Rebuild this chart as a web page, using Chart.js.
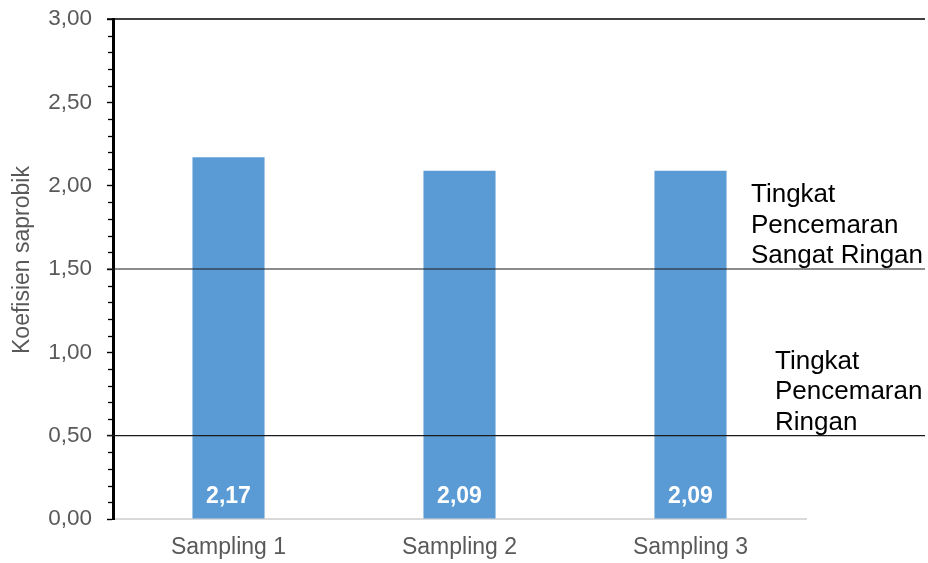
<!DOCTYPE html>
<html>
<head>
<meta charset="utf-8">
<script src="https://cdn.jsdelivr.net/npm/chart.js@4"></script>
<style>
  html, body { margin: 0; padding: 0; background: #ffffff; }
  #wrap { width: 928px; height: 563px; position: relative; }
</style>
</head>
<body>
<div id="wrap"><canvas id="chart"></canvas></div>
<script>
// Data
const categories = ['Sampling 1', 'Sampling 2', 'Sampling 3'];
const saprobicValues = [2.17, 2.09, 2.09];
const yTicks = [0, 0.5, 1, 1.5, 2, 2.5, 3];
const referenceLines = [3.0, 1.5, 0.5];
const zoneLabels = [
  { line: 1.5, text: ['Tingkat', 'Pencemaran', 'Sangat Ringan'] },
  { line: 0.5, text: ['Tingkat', 'Pencemaran', 'Ringan'] }
];
const yTitle = 'Koefisien saprobik';

const FONT = '"Liberation Sans", Arial, Helvetica, sans-serif';
const fmt = v => v.toFixed(2).replace('.', ',');

// Minor ticks, reference lines, zone notes, value labels and axis title
const decorations = {
  id: 'decorations',
  beforeDatasetsDraw(chart) {
    const { ctx, scales: { y } } = chart;
    const xAxis = y.right;
    ctx.save();
    // minor ticks every 0.1
    ctx.strokeStyle = '#000';
    ctx.lineWidth = 1.3;
    for (let i = 0; i <= 30; i++) {
      if (i % 5 === 0) continue;
      const py = Math.round(y.getPixelForValue(i / 10)) + 0.5;
      ctx.beginPath();
      ctx.moveTo(xAxis - 5, py);
      ctx.lineTo(xAxis, py);
      ctx.stroke();
    }
    ctx.restore();
  },
  afterDatasetsDraw(chart) {
    const { ctx, scales: { y } } = chart;
    ctx.save();
    // horizontal reference lines reaching past the plot
    referenceLines.forEach((v, i) => {
      const py = y.getPixelForValue(v);
      ctx.strokeStyle = i === 0 ? '#000' : '#1a1a1a';
      ctx.lineWidth = i === 0 ? 1.6 : 1.1;
      ctx.beginPath();
      ctx.moveTo(y.right - 6, py);
      ctx.lineTo(925, py);
      ctx.stroke();
    });
    // zone notes
    ctx.fillStyle = '#000';
    ctx.font = '26px ' + FONT;
    ctx.textAlign = 'left';
    ctx.textBaseline = 'alphabetic';
    const noteX = [751, 775];
    zoneLabels.forEach((z, k) => {
      const base = y.getPixelForValue(z.line) - 6;
      const n = z.text.length;
      z.text.forEach((t, j) => {
        ctx.fillText(t, noteX[k], base - (n - 1 - j) * 30.5);
      });
    });
    // value labels inside the bars
    ctx.fillStyle = '#ffffff';
    ctx.font = 'bold 23px ' + FONT;
    ctx.textAlign = 'center';
    const meta = chart.getDatasetMeta(0);
    meta.data.forEach((bar, i) => {
      ctx.fillText(fmt(saprobicValues[i]), bar.x, y.getPixelForValue(0) - 16);
    });
    // axis title
    ctx.fillStyle = '#595959';
    ctx.font = '23px ' + FONT;
    ctx.textAlign = 'center';
    ctx.textBaseline = 'middle';
    ctx.translate(23, 260);
    ctx.rotate(-Math.PI / 2);
    ctx.fillText(yTitle, 0, 0);
    ctx.restore();
  }
};

new Chart(document.getElementById('chart'), {
  type: 'bar',
  data: {
    labels: categories,
    datasets: [{
      data: saprobicValues,
      backgroundColor: '#5B9BD5',
      borderWidth: 0,
      categoryPercentage: 1,
      barPercentage: 0.312
    }]
  },
  options: {
    responsive: true,
    maintainAspectRatio: false,
    animation: false,
    layout: { padding: { left: 0, right: 122, top: 19, bottom: 0 } },
    plugins: {
      legend: { display: false },
      tooltip: { enabled: false }
    },
    scales: {
      x: {
        afterFit(scale) {
          scale.height = 44;
          scale.paddingLeft = 0;
          scale.paddingRight = 0;
        },
        grid: { display: false, drawTicks: false },
        border: { display: true, color: '#d9d9d9', width: 2 },
        ticks: {
          color: '#595959',
          font: { family: FONT, size: 23 },
          padding: 15
        }
      },
      y: {
        min: 0,
        max: 3,
        afterFit(scale) {
          scale.width = 113;
          scale.paddingTop = 0;
          scale.paddingBottom = 0;
        },
        afterBuildTicks(scale) { scale.ticks = yTicks.map(v => ({ value: v })); },
        grid: {
          drawOnChartArea: false,
          drawTicks: true,
          tickLength: 6,
          tickColor: '#000',
          tickWidth: 1.4
        },
        border: { display: true, color: '#000', width: 3 },
        ticks: {
          color: '#595959',
          font: { family: FONT, size: 22.5 },
          padding: 15,
          callback: v => fmt(v)
        }
      }
    }
  },
  plugins: [decorations]
});
</script>
</body>
</html>
